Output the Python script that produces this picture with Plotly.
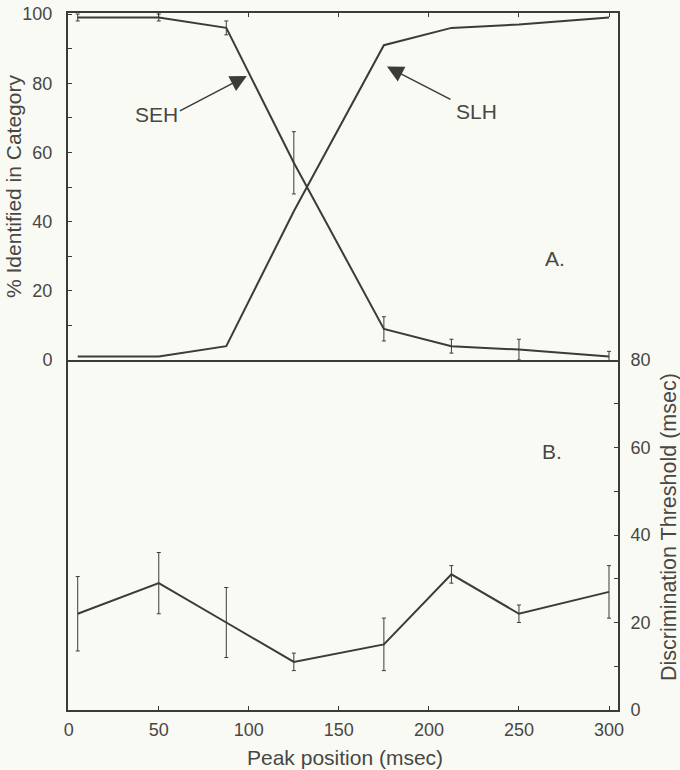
import plotly.graph_objects as go

# ---- data ----
peak_pos = [5, 50, 87.5, 125, 175, 212.5, 250, 300]
seh_pct = [99, 99, 96, 57, 9, 4, 3, 1]
seh_err = [1, 1, 2, 9, 3.5, 2, 3, 1.5]
slh_pct = [1, 1, 4, 43, 91, 96, 97, 99]
thresh = [22, 29, 20, 11, 15, 31, 22, 27]
thresh_err = [8.5, 7, 8, 2, 6, 2, 2, 6]
x_ticks = [0, 50, 100, 150, 200, 250, 300]
top_ticks = [0, 10, 20, 30, 40, 50, 60, 70, 80, 90, 100]
top_labels = ["0", "", "20", "", "40", "", "60", "", "80", "", "100"]
bot_ticks = [0, 10, 20, 30, 40, 50, 60, 70, 80]
bot_labels = ["0", "", "20", "", "40", "", "60", "", "80"]

LINE = "#3b3b37"
TEXT = "#474744"
BG = "#fafaf4"
FONT = "Liberation Sans, Arial, Helvetica, sans-serif"

fig = go.Figure()

fig.add_trace(go.Scatter(
    x=peak_pos, y=seh_pct, mode="lines", xaxis="x2", yaxis="y",
    line=dict(color=LINE, width=2),
    error_y=dict(type="data", array=seh_err, visible=True, color=LINE, thickness=1, width=2),
    showlegend=False))
fig.add_trace(go.Scatter(
    x=peak_pos, y=slh_pct, mode="lines", xaxis="x2", yaxis="y",
    line=dict(color=LINE, width=2), showlegend=False))
fig.add_trace(go.Scatter(
    x=peak_pos, y=thresh, mode="lines", xaxis="x", yaxis="y2",
    line=dict(color=LINE, width=2),
    error_y=dict(type="data", array=thresh_err, visible=True, color=LINE, thickness=1, width=2),
    showlegend=False))

split = (710 - 360) / 697.0
xr = [-0.4, 305]

common_tick = dict(ticks="inside", ticklen=4, tickwidth=1, tickcolor=LINE,
                   showgrid=False, zeroline=False, showline=True, linecolor=LINE,
                   linewidth=2, automargin=False,
                   tickfont=dict(family=FONT, size=18, color=TEXT))

fig.update_layout(
    width=680, height=770,
    margin=dict(l=68, r=62, t=13, b=60, autoexpand=False),
    paper_bgcolor=BG, plot_bgcolor=BG,
    font=dict(family=FONT, color=TEXT),
    xaxis=dict(domain=[0, 1], anchor="y2", range=xr, tickvals=x_ticks,
               ticklabelstandoff=2, **common_tick),
    xaxis2=dict(domain=[0, 1], anchor="y", range=xr, tickvals=x_ticks, side="top",
                showticklabels=False, mirror=True, **common_tick),
    yaxis=dict(domain=[split, 1], anchor="x2", range=[0, 100.3], tickvals=top_ticks,
               ticktext=top_labels, mirror=True, ticklabelstandoff=10, **common_tick),
    yaxis2=dict(domain=[0, split], anchor="x", range=[0, 80], tickvals=bot_ticks,
                ticktext=bot_labels, side="right", mirror=True, ticklabelstandoff=7,
                **common_tick),
)

ann_font = dict(family=FONT, size=21, color=TEXT)
annotations = [
    # axis titles
    dict(text="% Identified in Category", xref="paper", yref="paper",
         x=(13 - 68) / 550, y=(710 - 187) / 697, textangle=-90,
         xanchor="center", yanchor="middle", showarrow=False, font=ann_font),
    dict(text="Discrimination Threshold (msec)", xref="paper", yref="paper",
         x=(669 - 68) / 550, y=(710 - 527) / 697, textangle=-90,
         xanchor="center", yanchor="middle", showarrow=False,
         font=dict(family=FONT, size=21.5, color=TEXT)),
    dict(text="Peak position (msec)", xref="paper", yref="paper",
         x=(345 - 68) / 550, y=(710 - 757) / 697,
         xanchor="center", yanchor="middle", showarrow=False, font=ann_font),
    # labels
    dict(text="SEH", xref="x2", yref="y", x=48.5, y=71.1, showarrow=False, font=ann_font),
    dict(text="SLH", xref="x2", yref="y", x=226.3, y=71.7, showarrow=False, font=ann_font),
    dict(text="A.", xref="x2", yref="y", x=270.2, y=29.2, showarrow=False, font=ann_font),
    dict(text="B.", xref="x", yref="y2", x=268.6, y=59, showarrow=False, font=ann_font),
    # arrows
    dict(text="", xref="x2", yref="y", x=98.9, y=82.1, axref="x2", ayref="y",
         ax=60.9, ay=71.8, showarrow=True, arrowhead=2, arrowsize=2.2,
         arrowwidth=1.5, arrowcolor=LINE, standoff=0),
    dict(text="", xref="x2", yref="y", x=176.7, y=84.8, axref="x2", ayref="y",
         ax=212.8, ay=75.1, showarrow=True, arrowhead=2, arrowsize=2.2,
         arrowwidth=1.5, arrowcolor=LINE, standoff=0),
]
fig.update_layout(annotations=annotations)

fig.write_html("out.html", config={"displayModeBar": False},
               post_script="document.body.style.margin='0';")
